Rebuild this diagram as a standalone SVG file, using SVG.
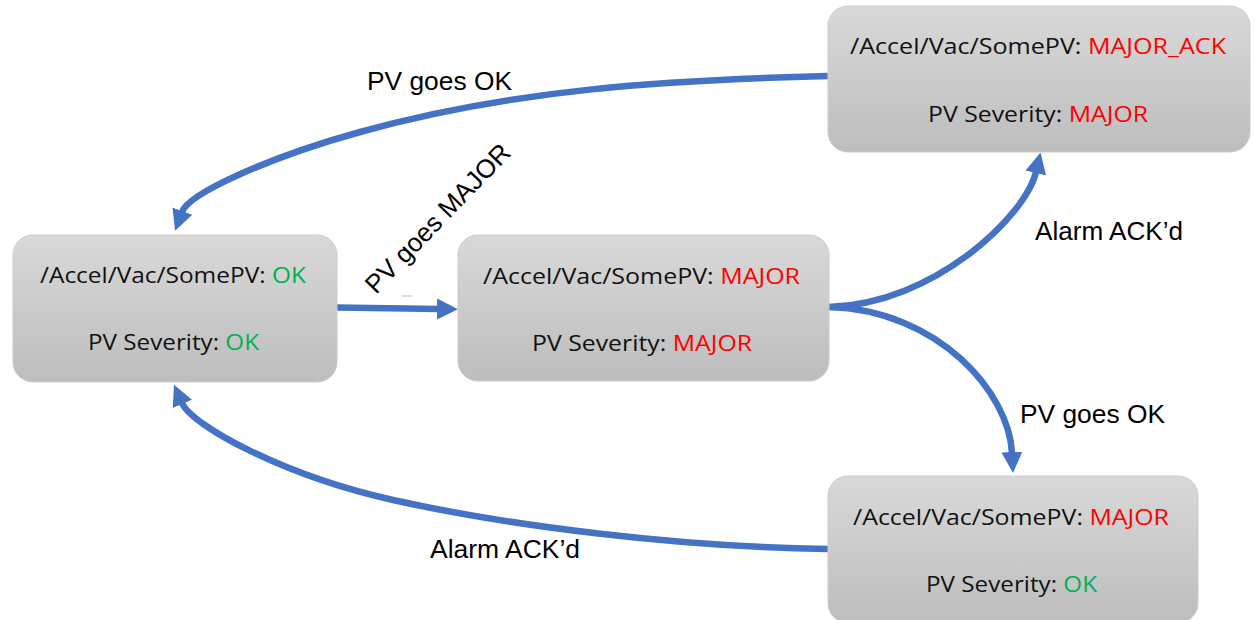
<svg xmlns="http://www.w3.org/2000/svg" width="1255" height="620" viewBox="0 0 1255 620">
  <style>
    .box { fill: url(#boxFill); stroke: #cbcbcb; stroke-width: 1; }
    .state { font-family: "Open Sans", Lato, "Liberation Sans", sans-serif; font-size: 22px; fill: #111111; }
    .bad { fill: #ff0000; }
    .good { fill: #00b050; }
    .edge { fill: none; stroke: #4472c4; stroke-width: 6.5; marker-end: url(#head); }
    .label { font-family: "Liberation Sans", Arial, sans-serif; font-size: 26px; fill: #000; }
  </style>
  <defs>
    <linearGradient id="boxFill" x1="0" y1="0" x2="0" y2="1">
      <stop offset="0" stop-color="#d9d9d9"/>
      <stop offset="1" stop-color="#bdbdbd"/>
    </linearGradient>
    <marker id="head" markerUnits="userSpaceOnUse" markerWidth="22" markerHeight="24"
            viewBox="0 -12 22 24" refX="1" refY="0" orient="auto">
      <polygon points="0,-10.5 21,0 0,10.5" fill="#4472c4"/>
    </marker>
  </defs>

  <rect width="1255" height="620" fill="#ffffff"/>

  <!-- state transitions -->
  <g id="connectors">
    <path class="edge" d="M337,307.5 L438,309"/>
    <path class="edge" d="M828,76 C668,80 514,89 360,132 C270,157 189,193 182,212"/>
    <path class="edge" d="M829,307 C935,304 1026,215 1036,172"/>
    <path class="edge" d="M829,307 C939,310 1009,393 1012,453"/>
    <path class="edge" d="M828,549 C678,547 510,526 393,500 C285,476 192,426 182,403"/>
    <line x1="402" y1="296" x2="412" y2="296" stroke="#c4c4c4" stroke-width="1.2"/>
  </g>

  <!-- transition labels -->
  <g id="labels">
    <text class="label" x="367" y="90" textLength="145" lengthAdjust="spacingAndGlyphs">PV goes OK</text>
    <text class="label" transform="translate(376,295) rotate(-46)" x="0" y="0" textLength="196" lengthAdjust="spacingAndGlyphs">PV goes MAJOR</text>
    <text class="label" x="1035" y="240" textLength="148" lengthAdjust="spacingAndGlyphs">Alarm ACK’d</text>
    <text class="label" x="1020" y="423" textLength="145" lengthAdjust="spacingAndGlyphs">PV goes OK</text>
    <text class="label" x="430" y="558" textLength="150" lengthAdjust="spacingAndGlyphs">Alarm ACK’d</text>
  </g>

  <g id="state-ok">
    <rect class="box" x="13" y="235" width="324" height="147" rx="20"/>
    <text class="state" x="40" y="283" textLength="266" lengthAdjust="spacingAndGlyphs">/Accel/Vac/SomePV: <tspan class="good">OK</tspan></text>
    <text class="state" x="88" y="350" textLength="171" lengthAdjust="spacingAndGlyphs">PV Severity: <tspan class="good">OK</tspan></text>
  </g>

  <g id="state-major">
    <rect class="box" x="458" y="235" width="371" height="146" rx="20"/>
    <text class="state" x="483" y="284" textLength="317" lengthAdjust="spacingAndGlyphs">/Accel/Vac/SomePV: <tspan class="bad">MAJOR</tspan></text>
    <text class="state" x="532" y="351" textLength="220" lengthAdjust="spacingAndGlyphs">PV Severity: <tspan class="bad">MAJOR</tspan></text>
  </g>

  <g id="state-major-ack">
    <rect class="box" x="828" y="6" width="422" height="146" rx="20"/>
    <text class="state" x="850" y="54" textLength="376" lengthAdjust="spacingAndGlyphs">/Accel/Vac/SomePV: <tspan class="bad">MAJOR_ACK</tspan></text>
    <text class="state" x="928" y="122" textLength="220" lengthAdjust="spacingAndGlyphs">PV Severity: <tspan class="bad">MAJOR</tspan></text>
  </g>

  <g id="state-major-ok">
    <rect class="box" x="828" y="476" width="370" height="147" rx="20"/>
    <text class="state" x="853" y="525" textLength="316" lengthAdjust="spacingAndGlyphs">/Accel/Vac/SomePV: <tspan class="bad">MAJOR</tspan></text>
    <text class="state" x="926" y="592" textLength="171" lengthAdjust="spacingAndGlyphs">PV Severity: <tspan class="good">OK</tspan></text>
  </g>
</svg>
